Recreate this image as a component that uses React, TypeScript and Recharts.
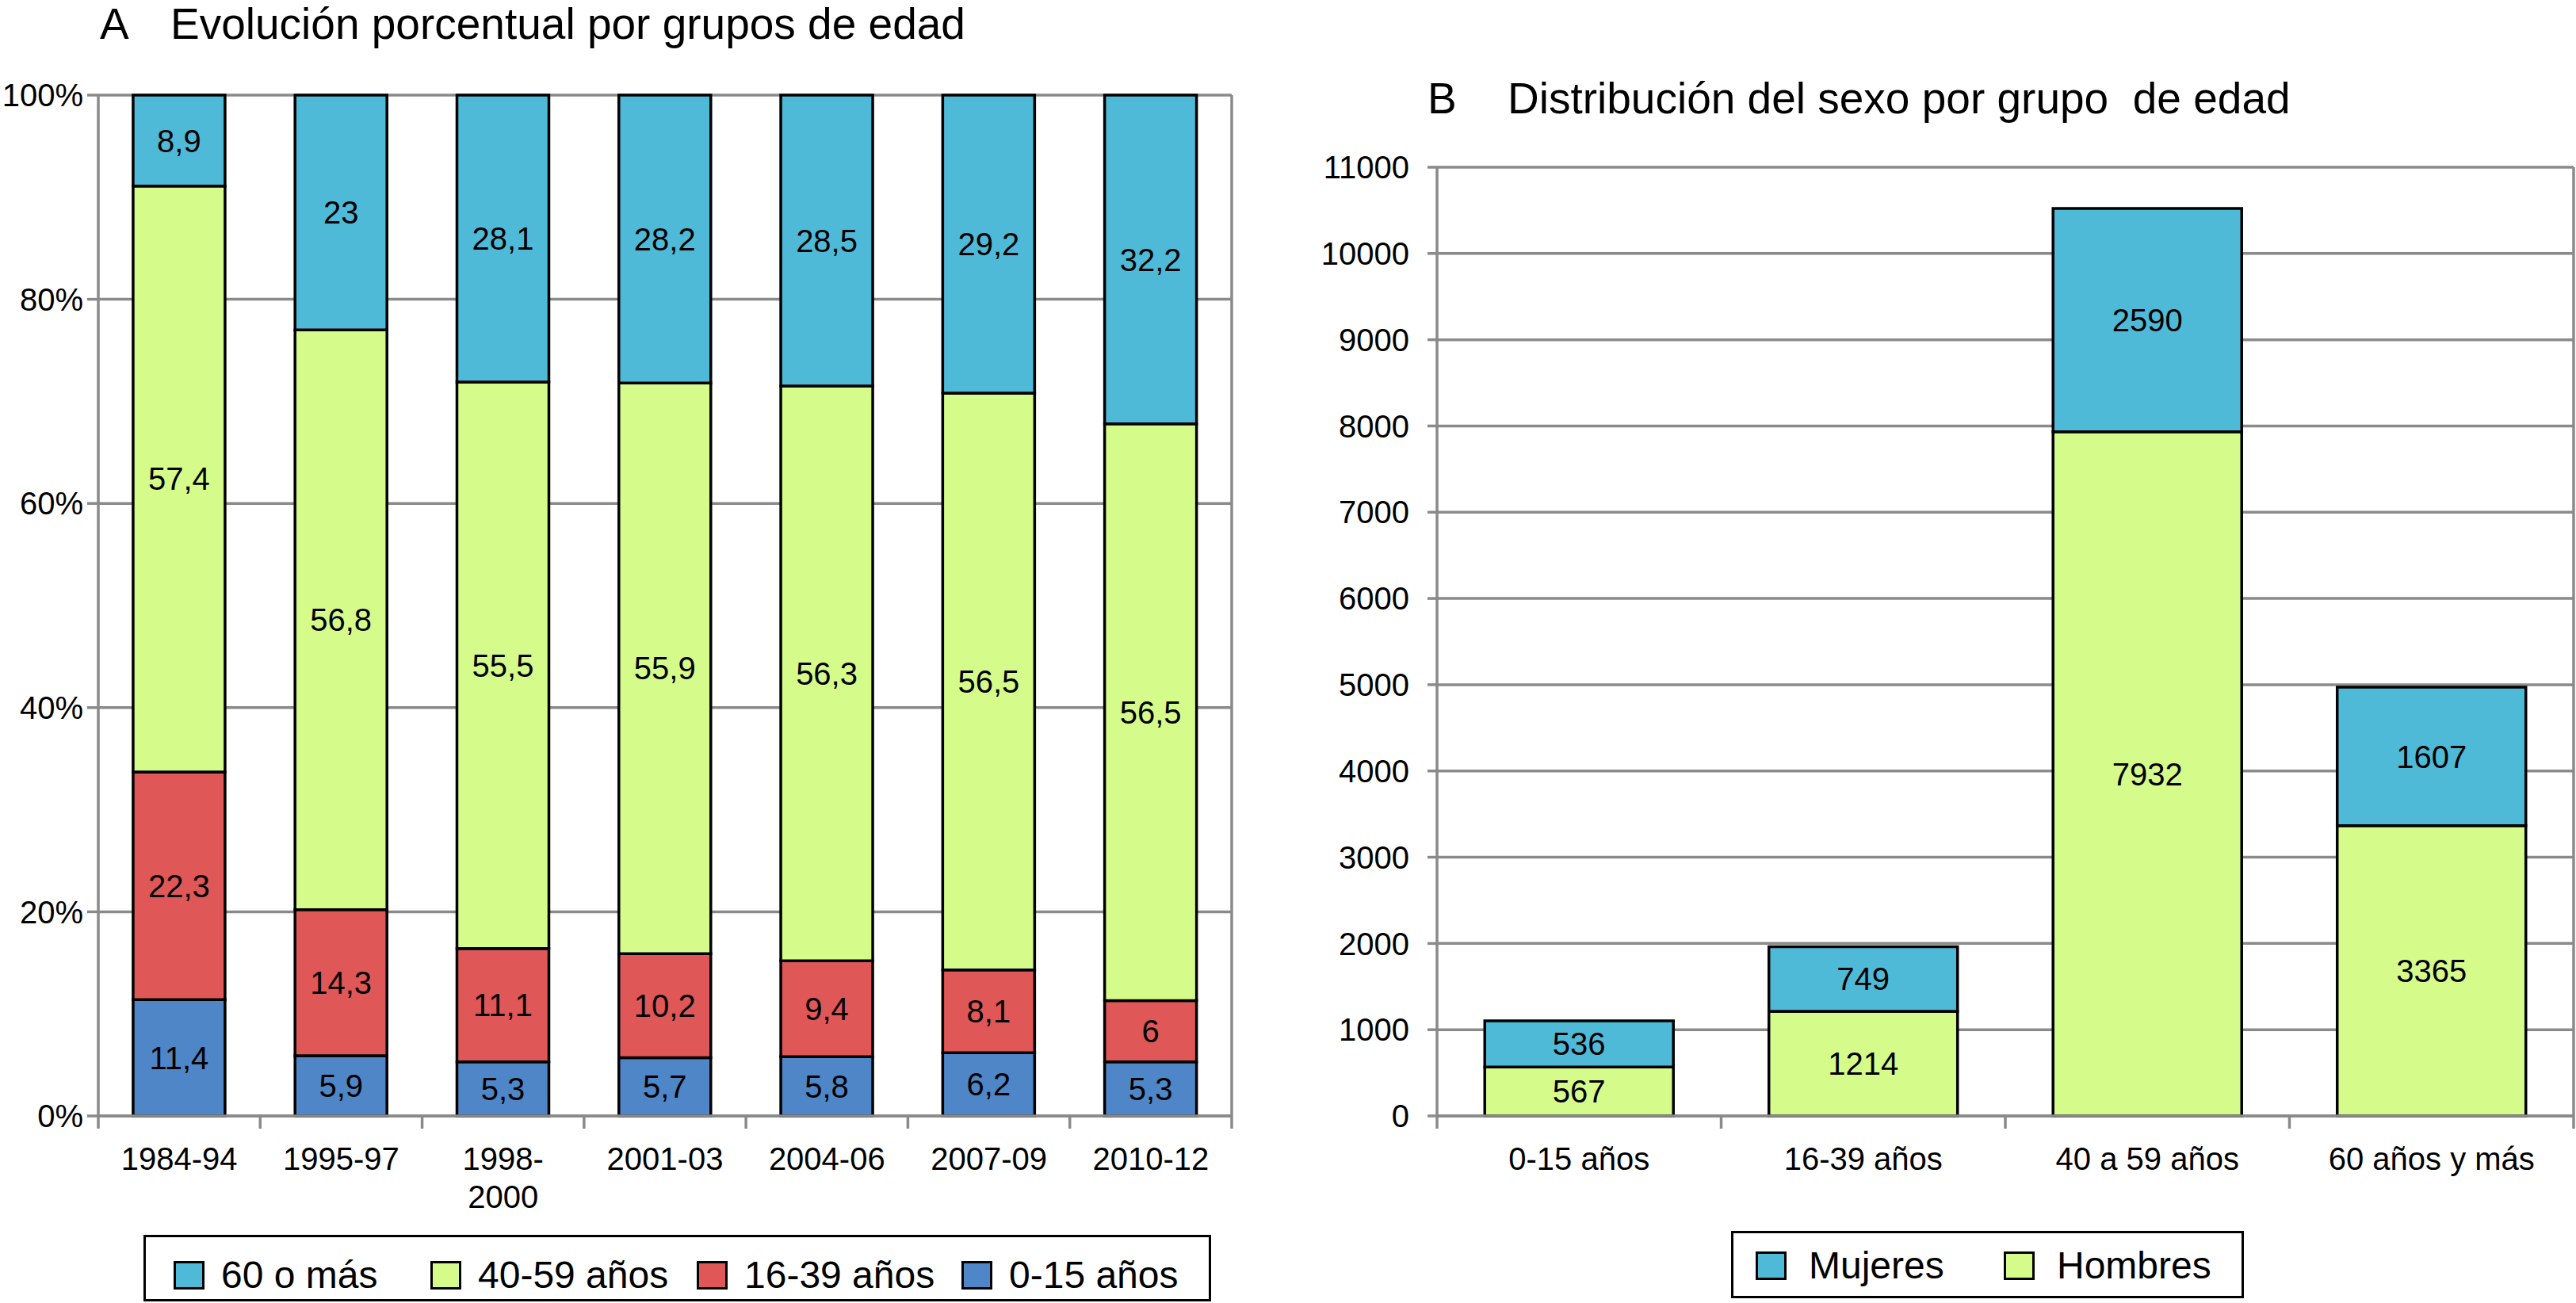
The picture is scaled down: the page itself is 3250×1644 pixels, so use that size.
import React from 'react';
import { BarChart, Bar, XAxis, YAxis, CartesianGrid, LabelList, ReferenceLine } from 'recharts';

// Panel A: evolución porcentual por grupos de edad
const periodos = ['1984-94', '1995-97', '1998-2000', '2001-03', '2004-06', '2007-09', '2010-12'];
const edad0a15 = [11.4, 5.9, 5.3, 5.7, 5.8, 6.2, 5.3];
const edad16a39 = [22.3, 14.3, 11.1, 10.2, 9.4, 8.1, 6];
const edad40a59 = [57.4, 56.8, 55.5, 55.9, 56.3, 56.5, 56.5];
const edad60mas = [8.9, 23, 28.1, 28.2, 28.5, 29.2, 32.2];
const ticksA = [0, 0.2, 0.4, 0.6, 0.8, 1];

// Panel B: distribución del sexo por grupo de edad
const gruposEdad = ['0-15 años', '16-39 años', '40 a 59 años', '60 años y más'];
const hombres = [567, 1214, 7932, 3365];
const mujeres = [536, 749, 2590, 1607];
const ticksB = [0, 1000, 2000, 3000, 4000, 5000, 6000, 7000, 8000, 9000, 10000, 11000];

const dataA = periodos.map((p, i) => ({
  periodo: p,
  e0: edad0a15[i],
  e16: edad16a39[i],
  e40: edad40a59[i],
  e60: edad60mas[i],
}));

const dataB = gruposEdad.map((g, i) => ({
  grupo: g,
  hombres: hombres[i],
  mujeres: mujeres[i],
}));

const FONT = '"Liberation Sans", Arial, Helvetica, sans-serif';
const GRID = '#8a8a8a';
const C60 = '#4fbad8';
const C40 = '#d5fb8b';
const C16 = '#e05757';
const C0 = '#4f86c7';

const fmtComa = (v: any) => String(v).replace('.', ',');

// x tick: label plus Excel-style tick marks between categories
const makeTick = (band: number, count: number) => (props: any) => {
  const { x, y, payload, index } = props;
  const label = String(payload.value);
  const cut = label.indexOf('-') + 1;
  const lines = label.length > 7 && !label.includes(' ') ? [label.slice(0, cut), label.slice(cut)] : [label];
  return (
    <g>
      <line x1={x - band / 2} x2={x - band / 2} y1={y} y2={y + 16} stroke={GRID} strokeWidth={3.5} />
      {index === count - 1 && (
        <line x1={x + band / 2} x2={x + band / 2} y1={y} y2={y + 16} stroke={GRID} strokeWidth={3.5} />
      )}
      <text x={x} y={y + 68} textAnchor="middle" fontSize={40} fill="#000" fontFamily={FONT}>
        {lines.map((l, i) => (
          <tspan key={i} x={x} dy={i === 0 ? 0 : 48}>{l}</tspan>
        ))}
      </text>
    </g>
  );
};

const labelStyle = { fontSize: 40, fill: '#000', fontFamily: FONT };

const Swatch = ({ color }: { color: string }) => (
  <div style={{ width: 33, height: 30, background: color, border: '3px solid #000' }} />
);

const legendA = [
  { name: '60 o más', color: C60, left: 35 },
  { name: '40-59 años', color: C40, left: 359 },
  { name: '16-39 años', color: C16, left: 695 },
  { name: '0-15 años', color: C0, left: 1029 },
];

const legendB = [
  { name: 'Mujeres', color: C60, left: 28 },
  { name: 'Hombres', color: C40, left: 341 },
];

export default function App() {
  const bandA = (1554 - 124) / periodos.length;
  const bandB = (3247 - 1813) / gruposEdad.length;
  return (
    <div style={{ position: 'absolute', left: 0, top: 0, width: 3250, height: 1644, background: '#fff', overflow: 'hidden', fontFamily: FONT, color: '#000' }}>
      {/* titles */}
      <div style={{ position: 'absolute', left: 126, top: 3, fontSize: 55, lineHeight: '55px' }}>A</div>
      <div style={{ position: 'absolute', left: 215, top: 3, fontSize: 55, lineHeight: '55px', whiteSpace: 'pre' }}>
        Evolución porcentual por grupos de edad
      </div>
      <div style={{ position: 'absolute', left: 1801, top: 97, fontSize: 55, lineHeight: '55px' }}>B</div>
      <div style={{ position: 'absolute', left: 1902, top: 97, fontSize: 55, lineHeight: '55px', whiteSpace: 'pre' }}>
        {'Distribución del sexo por grupo  de edad'}
      </div>

      {/* chart A */}
      <div style={{ position: 'absolute', left: 0, top: 0 }}>
        <BarChart
          width={1600}
          height={1540}
          data={dataA}
          stackOffset="expand"
          barCategoryGap="21.5%"
          margin={{ top: 120, right: 46, left: 0, bottom: 0 }}
        >
          <CartesianGrid vertical={false} stroke={GRID} strokeWidth={3.5} />
          <XAxis
            dataKey="periodo"
            interval={0}
            height={132}
            tickSize={0}
            tickMargin={0}
            tickLine={false}
            axisLine={{ stroke: GRID, strokeWidth: 3.5 }}
            tick={makeTick(bandA, periodos.length)}
          />
          <YAxis
            width={124}
            domain={[0, 1]}
            ticks={ticksA}
            tickFormatter={(v: number) => `${Math.round(v * 100)}%`}
            tickSize={14}
            tickMargin={5}
            tickLine={{ stroke: GRID, strokeWidth: 3.5 }}
            axisLine={{ stroke: GRID, strokeWidth: 3.5 }}
            tick={{ fontSize: 40, fill: '#000', fontFamily: FONT }}
          />
          <ReferenceLine x={periodos[periodos.length - 1]} position="end" stroke={GRID} strokeWidth={3.5} />
          <Bar dataKey="e0" stackId="a" fill={C0} stroke="#000" strokeWidth={3.5} isAnimationActive={false}>
            <LabelList dataKey="e0" position="center" formatter={fmtComa} style={labelStyle} />
          </Bar>
          <Bar dataKey="e16" stackId="a" fill={C16} stroke="#000" strokeWidth={3.5} isAnimationActive={false}>
            <LabelList dataKey="e16" position="center" formatter={fmtComa} style={labelStyle} />
          </Bar>
          <Bar dataKey="e40" stackId="a" fill={C40} stroke="#000" strokeWidth={3.5} isAnimationActive={false}>
            <LabelList dataKey="e40" position="center" formatter={fmtComa} style={labelStyle} />
          </Bar>
          <Bar dataKey="e60" stackId="a" fill={C60} stroke="#000" strokeWidth={3.5} isAnimationActive={false}>
            <LabelList dataKey="e60" position="center" formatter={fmtComa} style={labelStyle} />
          </Bar>
        </BarChart>
      </div>

      {/* chart B */}
      <div style={{ position: 'absolute', left: 1650, top: 0 }}>
        <BarChart
          width={1600}
          height={1540}
          data={dataB}
          barCategoryGap="16.8%"
          margin={{ top: 211, right: 3, left: 0, bottom: 0 }}
        >
          <CartesianGrid vertical={false} stroke={GRID} strokeWidth={3.5} />
          <XAxis
            dataKey="grupo"
            interval={0}
            height={132}
            tickSize={0}
            tickMargin={0}
            tickLine={false}
            axisLine={{ stroke: GRID, strokeWidth: 3.5 }}
            tick={makeTick(bandB, gruposEdad.length)}
          />
          <YAxis
            width={163}
            domain={[0, 11000]}
            ticks={ticksB}
            interval={0}
            tickSize={12}
            tickMargin={23}
            tickLine={{ stroke: GRID, strokeWidth: 3.5 }}
            axisLine={{ stroke: GRID, strokeWidth: 3.5 }}
            tick={{ fontSize: 40, fill: '#000', fontFamily: FONT }}
          />
          <ReferenceLine x={gruposEdad[gruposEdad.length - 1]} position="end" stroke={GRID} strokeWidth={3.5} />
          <Bar dataKey="hombres" stackId="b" fill={C40} stroke="#000" strokeWidth={3.5} isAnimationActive={false}>
            <LabelList dataKey="hombres" position="center" style={labelStyle} />
          </Bar>
          <Bar dataKey="mujeres" stackId="b" fill={C60} stroke="#000" strokeWidth={3.5} isAnimationActive={false}>
            <LabelList dataKey="mujeres" position="center" style={labelStyle} />
          </Bar>
        </BarChart>
      </div>

      {/* legends */}
      <div style={{ position: 'absolute', left: 181, top: 1558, width: 1341, height: 78, border: '3px solid #000', background: '#fff' }}>
        {legendA.map((it) => (
          <div key={it.name} style={{ position: 'absolute', left: it.left, top: 24, display: 'flex', alignItems: 'center' }}>
            <Swatch color={it.color} />
            <span style={{ marginLeft: 21, fontSize: 48, lineHeight: '48px' }}>{it.name}</span>
          </div>
        ))}
      </div>
      <div style={{ position: 'absolute', left: 2184, top: 1553, width: 641, height: 79, border: '3px solid #000', background: '#fff' }}>
        {legendB.map((it) => (
          <div key={it.name} style={{ position: 'absolute', left: it.left, top: 17, display: 'flex', alignItems: 'center' }}>
            <Swatch color={it.color} />
            <span style={{ marginLeft: 28, fontSize: 48, lineHeight: '48px' }}>{it.name}</span>
          </div>
        ))}
      </div>
    </div>
  );
}
